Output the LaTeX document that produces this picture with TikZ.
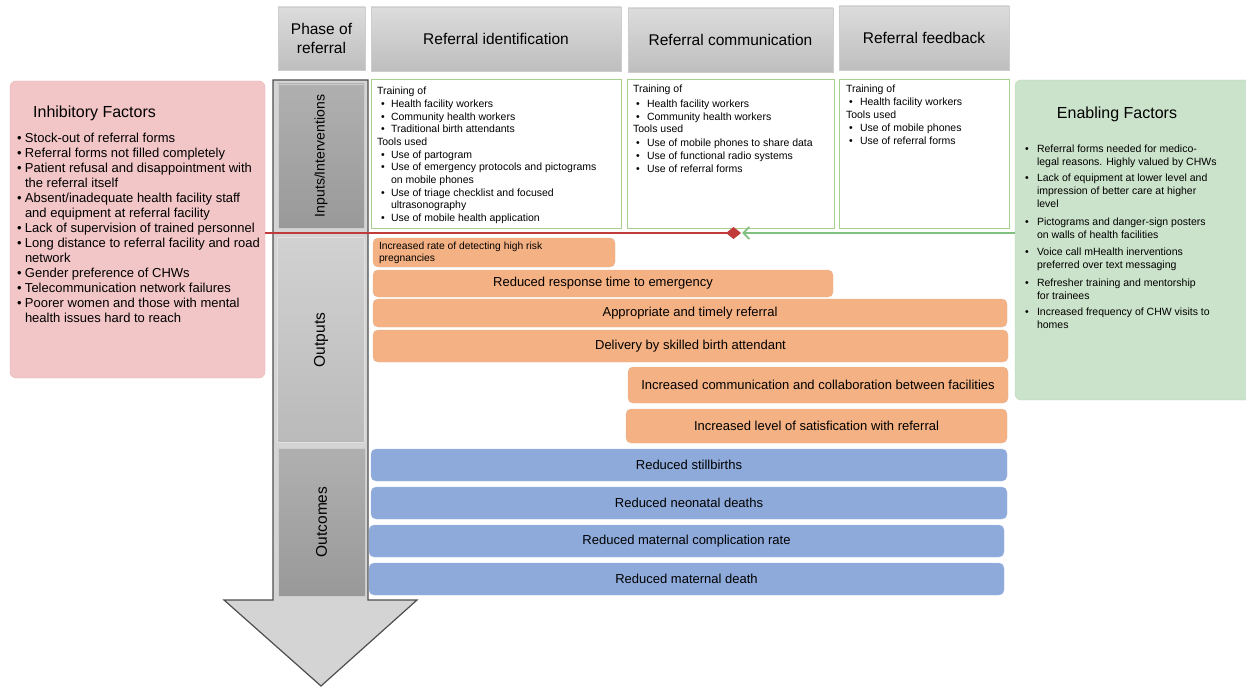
\documentclass[tikz,border=0pt]{standalone}
\usepackage{fontspec}
\setmainfont{Liberation Sans}
\usetikzlibrary{arrows.meta}
\definecolor{pinkfill}{HTML}{F2C5C7}
\definecolor{pinkline}{HTML}{E8B5B8}
\definecolor{greenfill}{HTML}{CBE2CB}
\definecolor{greenline}{HTML}{BBD8BB}
\definecolor{orangefill}{HTML}{F4B183}
\definecolor{orangeline}{HTML}{E6B595}
\definecolor{bluefill}{HTML}{8EAADB}
\definecolor{blueline}{HTML}{A5BBE3}
\definecolor{inboxline}{HTML}{A8D08D}
\definecolor{redconn}{HTML}{C23B3B}
\definecolor{greenconn}{HTML}{80C080}
\definecolor{hdrtop}{HTML}{DCDCDC}
\definecolor{hdrbot}{HTML}{BEBEBE}
\definecolor{hdrline}{HTML}{CDCDCD}
\definecolor{arrowfill}{HTML}{D4D4D4}
\definecolor{arrowline}{HTML}{4D4D4D}
\newcommand{\bul}[1]{\makebox[#1][l]{\textbullet}}
\tikzset{
  hdr/.style={draw=hdrline, top color=hdrtop, bottom color=hdrbot, inner sep=0pt, outer sep=0pt,
    anchor=north west, font=\fontsize{15.5}{19}\selectfont, align=center},
  inbox/.style={draw=inboxline, fill=white, line width=1pt, anchor=north west, inner sep=0pt, outer sep=0pt},
  outbox/.style={draw=orangeline, fill=orangefill, rounded corners=5pt, anchor=north west, inner sep=0pt,
    outer sep=0pt, font=\fontsize{13}{15}\selectfont},
  outcomebox/.style={draw=blueline, fill=bluefill, rounded corners=5pt, anchor=north west, inner sep=0pt,
    outer sep=0pt, font=\fontsize{13}{15}\selectfont},
  darkseg/.style={draw=hdrline, top color=black!31, bottom color=black!40, anchor=north west, inner sep=0pt, outer sep=0pt},
  lightseg/.style={draw=black!12, top color=black!18, bottom color=black!27, anchor=north west, inner sep=0pt, outer sep=0pt},
  seglabel/.style={rotate=90, font=\fontsize{15.5}{18}\selectfont, inner sep=0pt},
  listtxt/.style={anchor=north west, inner sep=0pt, outer sep=0pt, align=left},
  factorbox/.style={rounded corners=6pt, anchor=north west, inner sep=0pt, outer sep=0pt},
}
\begin{document}
\begin{tikzpicture}[x=1pt,y=-1pt]
\useasboundingbox (0,0) rectangle (1246,687);

% ---- header row ----
\node[hdr, minimum width=87pt, minimum height=63pt] (hphase) at (278,7) {Phase of\\referral};
\node[hdr, minimum width=250pt, minimum height=64pt] (hident) at (371,7) {Referral identification};
\node[hdr, minimum width=205pt, minimum height=64pt] (hcomm) at (628,8) {Referral communication};
\node[hdr, minimum width=170pt, minimum height=64pt] (hfeed) at (839,6) {Referral feedback};

% ---- factor boxes ----
\node[factorbox, draw=pinkline, fill=pinkfill, minimum width=255pt, minimum height=297pt] (inhib) at (10,81) {};
\node[factorbox, draw=greenline, fill=greenfill, minimum width=240pt, minimum height=320pt] (enab) at (1015,80) {};

\node[anchor=west, inner sep=0pt, font=\fontsize{16}{19}\selectfont] (inhibtitle) at (33,113) {Inhibitory Factors};
\node[listtxt, font=\fontsize{13}{15}\selectfont] (inhiblist) at (17,132) {%
\begin{tabular}{@{}l@{}}
\bul{8pt}Stock-out of referral forms\\
\bul{8pt}Referral forms not filled completely\\
\bul{8pt}Patient refusal and disappointment with\\
\hspace*{8pt}the referral itself\\
\bul{8pt}Absent/inadequate health facility staff\\
\hspace*{8pt}and equipment at referral facility\\
\bul{8pt}Lack of supervision of trained personnel\\
\bul{8pt}Long distance to referral facility and road\\
\hspace*{8pt}network\\
\bul{8pt}Gender preference of CHWs\\
\bul{8pt}Telecommunication network failures\\
\bul{8pt}Poorer women and those with mental\\
\hspace*{8pt}health issues hard to reach
\end{tabular}};

\node[inner sep=0pt, font=\fontsize{16}{19}\selectfont] (enabtitle) at (1117,114) {Enabling Factors};
\node[listtxt, font=\fontsize{10.5}{13}\selectfont] (enablist) at (1025,143.5) {%
\begin{tabular}{@{}l@{}}
\bul{12pt}Referral forms needed for medico-\\
\hspace*{12pt}legal reasons. Highly valued by CHWs\\[3pt]
\bul{12pt}Lack of equipment at lower level and\\
\hspace*{12pt}impression of better care at higher\\
\hspace*{12pt}level\\[5pt]
\bul{12pt}Pictograms and danger-sign posters\\
\hspace*{12pt}on walls of health facilities\\[4pt]
\bul{12pt}Voice call mHealth inerventions\\
\hspace*{12pt}preferred over text messaging\\[5pt]
\bul{12pt}Refresher training and mentorship\\
\hspace*{12pt}for trainees\\[3pt]
\bul{12pt}Increased frequency of CHW visits to\\
\hspace*{12pt}homes
\end{tabular}};

% ---- big downward arrow ----
\draw[fill=arrowfill, draw=arrowline, line width=1.2pt, line join=miter]
  (273,80) -- (368,80) -- (368,600) -- (417,600) -- (321,686) -- (224,600) -- (273,600) -- cycle;
\node[darkseg, minimum width=86pt, minimum height=144pt] (seginputs) at (278,84) {};
\node[lightseg, minimum width=87pt, minimum height=205pt] (segoutputs) at (277.5,237.5) {};
\node[darkseg, minimum width=87pt, minimum height=148pt] (segoutcomes) at (278,448) {};
\node[seglabel, font=\fontsize{14}{17}\selectfont] (lblinputs) at (seginputs.center) {Inputs/Interventions};
\node[seglabel] (lbloutputs) at (segoutputs.center) {Outputs};
\node[seglabel] (lbloutcomes) at (segoutcomes.center) {Outcomes};

% ---- input boxes ----
\node[inbox, minimum width=250pt, minimum height=148pt] (in1) at (371,80) {};
\node[inbox, minimum width=207pt, minimum height=148pt] (in2) at (627,80) {};
\node[inbox, minimum width=170pt, minimum height=148pt] (in3) at (839,80) {};

\node[listtxt, font=\fontsize{10.5}{12.7}\selectfont] (in1txt) at (377,85.8) {%
\begin{tabular}{@{}l@{}}
Training of\\
\hspace*{4pt}\bul{10pt}Health facility workers\\
\hspace*{4pt}\bul{10pt}Community health workers\\
\hspace*{4pt}\bul{10pt}Traditional birth attendants\\
Tools used\\
\hspace*{4pt}\bul{10pt}Use of partogram\\
\hspace*{4pt}\bul{10pt}Use of emergency protocols and pictograms\\
\hspace*{14pt}on mobile phones\\
\hspace*{4pt}\bul{10pt}Use of triage checklist and focused\\
\hspace*{14pt}ultrasonography\\
\hspace*{4pt}\bul{10pt}Use of mobile health application
\end{tabular}};

\node[listtxt, font=\fontsize{10.5}{12.9}\selectfont] (in2txt) at (633,83.7) {%
\begin{tabular}{@{}l@{}}
Training of\\[1.5pt]
\hspace*{3pt}\bul{11pt}Health facility workers\\
\hspace*{3pt}\bul{11pt}Community health workers\\
Tools used\\[1pt]
\hspace*{3pt}\bul{11pt}Use of mobile phones to share data\\
\hspace*{3pt}\bul{11pt}Use of functional radio systems\\
\hspace*{3pt}\bul{11pt}Use of referral forms
\end{tabular}};

\node[listtxt, font=\fontsize{10.5}{13}\selectfont] (in3txt) at (846,83.5) {%
\begin{tabular}{@{}l@{}}
Training of\\
\hspace*{3pt}\bul{11pt}Health facility workers\\
Tools used\\
\hspace*{3pt}\bul{11pt}Use of mobile phones\\
\hspace*{3pt}\bul{11pt}Use of referral forms
\end{tabular}};

% ---- outputs ----
\node[outbox, minimum width=242pt, minimum height=29pt] (o1) at (373,238) {};
\node[listtxt, anchor=west, font=\fontsize{10.3}{12}\selectfont] (o1txt) at (379,252.5)
  {Increased rate of detecting high risk\\pregnancies};
\node[outbox, minimum width=460pt, minimum height=27pt] (o2) at (373,270) {Reduced response time to emergency};
\node[outbox, minimum width=634pt, minimum height=28pt] (o3) at (373,299) {Appropriate and timely referral};
\node[outbox, minimum width=635pt, minimum height=32pt] (o4) at (373,330) {Delivery by skilled birth attendant};
\node[outbox, minimum width=380pt, minimum height=36pt] (o5) at (628,367) {Increased communication and collaboration between facilities};
\node[outbox, minimum width=381pt, minimum height=34pt] (o6) at (626,409) {Increased level of satisfication with referral};

% ---- outcomes ----
\node[outcomebox, minimum width=636pt, minimum height=32pt] (c1) at (371,449) {Reduced stillbirths};
\node[outcomebox, minimum width=636pt, minimum height=32pt] (c2) at (371,487) {Reduced neonatal deaths};
\node[outcomebox, minimum width=635pt, minimum height=32pt] (c3) at (369,525) {Reduced maternal complication rate};
\node[outcomebox, minimum width=635pt, minimum height=32pt] (c4) at (369,563) {Reduced maternal death};

% ---- connectors ----
\coordinate (meet) at (741,233);
\coordinate (meetg) at (742,233);
\draw[redconn, line width=1.8pt, -{Diamond[length=15pt,width=12pt]}] (inhib.east |- meet) -- (meet);
\draw[greenconn, line width=1.8pt, -{Straight Barb[length=6pt,width=12pt]}] (enab.west |- meetg) -- (meetg);
\end{tikzpicture}
\end{document}
